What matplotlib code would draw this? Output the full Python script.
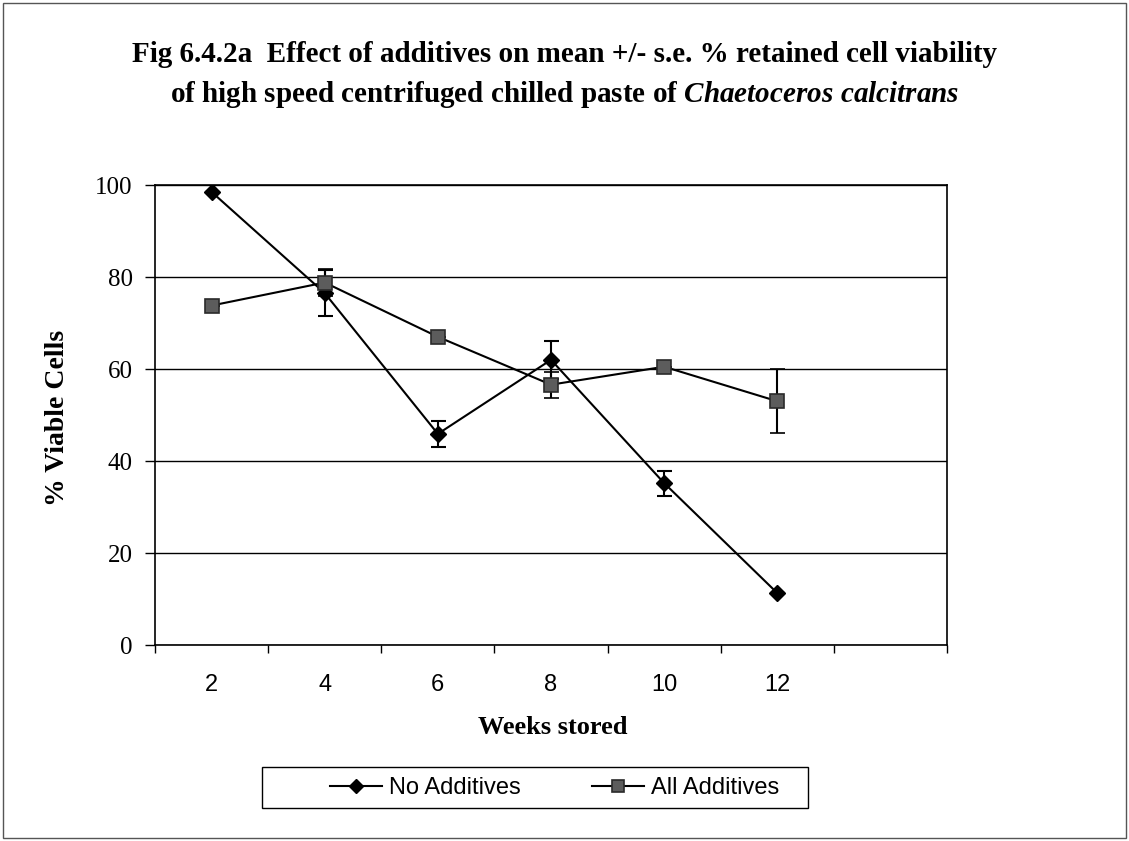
"""Retained cell viability of chilled Chaetoceros calcitrans paste, with and without additives."""

import matplotlib.pyplot as plt
from matplotlib.lines import Line2D
from matplotlib.patches import Rectangle
from matplotlib.ticker import FixedLocator, NullFormatter

SERIF = "Liberation Serif"
SANS = "Liberation Sans"
W, H = 1129, 841

plt.rcParams["mathtext.fontset"] = "custom"
plt.rcParams["mathtext.rm"] = "Liberation Serif:bold"
plt.rcParams["mathtext.it"] = "Liberation Serif:italic:bold"

weeks = ["2", "4", "6", "8", "10", "12"]
no_additives = [98.5, 76.5, 45.9, 62.0, 35.2, 11.3]
no_additives_se = [0.0, 5.0, 2.8, 4.2, 2.7, 0.0]
all_additives = [73.8, 78.8, 67.0, 56.6, 60.5, 53.0]
all_additives_se = [0.0, 3.0, 0.0, 2.8, 0.0, 6.9]
y_ticks = [0, 20, 40, 60, 80, 100]

fig = plt.figure(figsize=(W / 100, H / 100), dpi=100)
ax = fig.add_axes([0.1373, 0.233, 0.7015, 0.547])

x = list(range(len(weeks)))

no_style = dict(color="black", lw=1.5, marker="D", mfc="black", mec="black")
all_style = dict(color="black", lw=1.5, marker="s", mfc="#5c5c5c", mec="#2a2a2a", mew=1.2)

ax.errorbar(x, no_additives, yerr=no_additives_se, ms=8, **no_style,
            capsize=5.4, capthick=1.5, elinewidth=1.5, zorder=3)
ax.errorbar(x, all_additives, yerr=all_additives_se, ms=10, **all_style,
            capsize=5.4, capthick=1.5, elinewidth=1.5, zorder=3)

# one spare category on the right, like the original worksheet chart
ax.set_xlim(-0.5, len(weeks) + 0.5)
ax.set_ylim(0, 100)

ax.xaxis.set_major_locator(FixedLocator([i - 0.5 for i in range(len(weeks) + 2)]))
ax.xaxis.set_major_formatter(NullFormatter())
ax.xaxis.set_minor_locator(FixedLocator(x))
ax.set_xticklabels(weeks, minor=True)
ax.tick_params(axis="x", which="major", direction="out", length=6, width=1)
ax.tick_params(axis="x", which="minor", length=0, pad=21)
for lbl in ax.get_xticklabels(minor=True):
    lbl.set_fontfamily(SANS)
    lbl.set_fontsize(17)

ax.set_yticks(y_ticks)
ax.tick_params(axis="y", direction="out", length=7, width=1, pad=9)
for lbl in ax.get_yticklabels():
    lbl.set_fontfamily(SERIF)
    lbl.set_fontsize(18)

ax.yaxis.grid(True, color="black", lw=1)
ax.set_axisbelow(True)
for spine in ax.spines.values():
    spine.set_linewidth(1.2)
    spine.set_color("black")

fig.text(0.5, 1 - 54 / H,
         "Fig 6.4.2a  Effect of additives on mean +/- s.e. % retained cell viability",
         ha="center", va="center", family=SERIF, weight="bold", fontsize=21)
fig.text(0.5, 1 - 95 / H,
         r"of high speed centrifuged chilled paste of $\it{Chaetoceros\ calcitrans}$",
         ha="center", va="center", family=SERIF, weight="bold", fontsize=21)

fig.text(553 / W, 1 - 728 / H, "Weeks stored", ha="center", va="center",
         family=SERIF, weight="bold", fontsize=19)
fig.text(58 / W, 1 - 418 / H, "% Viable Cells", ha="center", va="center",
         rotation=90, family=SERIF, weight="bold", fontsize=20)

# legend box is wider than its entries, so the frame is drawn separately
handles = [Line2D([], [], ms=7, **no_style), Line2D([], [], ms=8, **all_style)]
fig.legend(handles, ["No Additives", "All Additives"], loc="center left",
           bbox_to_anchor=(330 / W, 1 - 788 / H),
           ncol=2, frameon=False, prop={"family": SANS, "size": 17},
           handlelength=2.2, handletextpad=0.3, columnspacing=3.0,
           borderpad=0, borderaxespad=0)
fig.patches.append(Rectangle((262 / W, 1 - 808 / H), (808 - 262) / W, 41 / H,
                             transform=fig.transFigure, fill=False,
                             edgecolor="black", lw=1))

fig.patches.append(Rectangle((0.003, 0.004), 0.994, 0.993, transform=fig.transFigure,
                             fill=False, edgecolor="#555555", lw=1))

fig.savefig("out.png", dpi=100)
